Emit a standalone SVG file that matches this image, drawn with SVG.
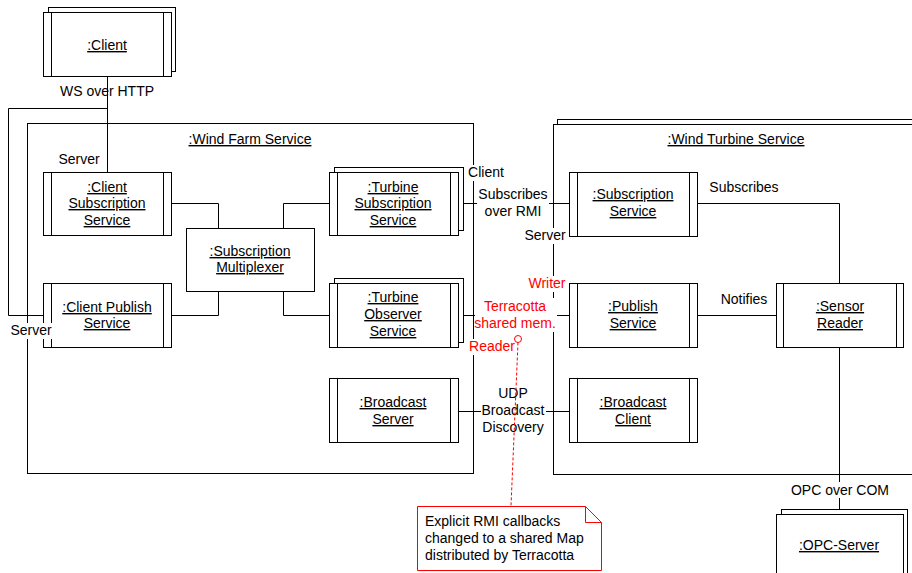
<svg xmlns="http://www.w3.org/2000/svg" width="912" height="573" viewBox="0 0 912 573">
<style>
.b{fill:#fff;stroke:#000;stroke-width:1}
.l{fill:none;stroke:#000;stroke-width:1}
.t{font-family:"Liberation Sans",Arial,sans-serif;font-size:14px;fill:#000;text-anchor:middle}
.u{text-decoration:underline}
.r{fill:#f00}
.bg{fill:#fff;stroke:none}
.rd{fill:none;stroke:#f00;stroke-width:1}
</style>
<rect width="912" height="573" fill="#fff"/>
<g id="wind-farm-service">
<rect class="b" x="27.5" y="123.5" width="446" height="350"/>
<text class="t u" x="250" y="144">:Wind Farm Service</text>
</g>
<g id="wind-turbine-service">
<rect class="b" x="557.5" y="119.5" width="400" height="350"/>
<rect class="b" x="553.5" y="124.5" width="400" height="350"/>
<text class="t u" x="736" y="144">:Wind Turbine Service</text>
</g>
<g id="connectors" class="l">
<path d="M107.5 76.5V172.5"/>
<path d="M107.5 108.5H8.5V315.5H43.5"/>
<path d="M171.5 203.5H218.5V228.5"/>
<path d="M171.5 315.5H218.5V291.5"/>
<path d="M283.5 228.5V203.5H329.5"/>
<path d="M283.5 291.5V315.5H329.5"/>
<path d="M458.5 203.5H569.5"/>
<path d="M458.5 315.5H569.5"/>
<path d="M458.5 411.5H569.5"/>
<path d="M697.5 203.5H839.5V283.5"/>
<path d="M697.5 315.5H776.5"/>
<path d="M839.5 347.5V509.5"/>
</g>
<g id="client">
<rect class="b" x="48.5" y="7.5" width="127" height="64"/>
<rect class="b" x="43.5" y="12.5" width="128" height="64"/>
<path class="l" d="M51.5 12.5V76.5M163.5 12.5V76.5"/>
<text class="t u" x="107" y="50">:Client</text>
</g>
<g id="client-subscription-service">
<rect class="b" x="43.5" y="172.5" width="128" height="63"/>
<path class="l" d="M51.5 172.5V235.5M163.5 172.5V235.5"/>
<text class="t u" x="107" y="192">:Client</text>
<text class="t u" x="107" y="208">Subscription</text>
<text class="t u" x="107" y="225">Service</text>
</g>
<g id="client-publish-service">
<rect class="b" x="43.5" y="283.5" width="128" height="64"/>
<path class="l" d="M51.5 283.5V347.5M163.5 283.5V347.5"/>
<text class="t u" x="107" y="312">:Client Publish</text>
<text class="t u" x="107" y="328">Service</text>
</g>
<g id="subscription-multiplexer">
<rect class="b" x="186.5" y="228.5" width="128" height="63"/>
<text class="t u" x="250" y="256">:Subscription</text>
<text class="t u" x="250" y="272">Multiplexer</text>
</g>
<g id="turbine-subscription-service">
<rect class="b" x="334.5" y="167.5" width="129" height="63"/>
<rect class="b" x="329.5" y="172.5" width="129" height="63"/>
<path class="l" d="M337.5 172.5V235.5M450.5 172.5V235.5"/>
<text class="t u" x="393" y="192">:Turbine</text>
<text class="t u" x="393" y="208">Subscription</text>
<text class="t u" x="393" y="225">Service</text>
</g>
<g id="turbine-observer-service">
<rect class="b" x="334.5" y="278.5" width="129" height="64"/>
<rect class="b" x="329.5" y="283.5" width="129" height="64"/>
<path class="l" d="M337.5 283.5V347.5M450.5 283.5V347.5"/>
<text class="t u" x="393" y="302">:Turbine</text>
<text class="t u" x="393" y="319">Observer</text>
<text class="t u" x="393" y="336">Service</text>
</g>
<g id="broadcast-server">
<rect class="b" x="329.5" y="378.5" width="129" height="64"/>
<path class="l" d="M337.5 378.5V442.5M450.5 378.5V442.5"/>
<text class="t u" x="393" y="407">:Broadcast</text>
<text class="t u" x="393" y="424">Server</text>
</g>
<g id="subscription-service">
<rect class="b" x="569.5" y="172.5" width="128" height="64"/>
<path class="l" d="M577.5 172.5V236.5M689.5 172.5V236.5"/>
<text class="t u" x="633" y="199">:Subscription</text>
<text class="t u" x="633" y="216">Service</text>
</g>
<g id="publish-service">
<rect class="b" x="569.5" y="283.5" width="128" height="64"/>
<path class="l" d="M577.5 283.5V347.5M689.5 283.5V347.5"/>
<text class="t u" x="633" y="311">:Publish</text>
<text class="t u" x="633" y="328">Service</text>
</g>
<g id="broadcast-client">
<rect class="b" x="569.5" y="378.5" width="128" height="64"/>
<path class="l" d="M577.5 378.5V442.5M689.5 378.5V442.5"/>
<text class="t u" x="633" y="407">:Broadcast</text>
<text class="t u" x="633" y="424">Client</text>
</g>
<g id="sensor-reader">
<rect class="b" x="776.5" y="283.5" width="127" height="64"/>
<path class="l" d="M783.5 283.5V347.5M896.5 283.5V347.5"/>
<text class="t u" x="840" y="311">:Sensor</text>
<text class="t u" x="840" y="328">Reader</text>
</g>
<g id="opc-server">
<rect class="b" x="781.5" y="509.5" width="126" height="80"/>
<rect class="b" x="776.5" y="514.5" width="127" height="80"/>
<text class="t u" x="839" y="550">:OPC-Server</text>
</g>
<g id="labels">
<text class="t" x="107" y="96">WS over HTTP</text>
<text class="t" x="79" y="164">Server</text>
<rect class="bg" x="9" y="323" width="44" height="16"/>
<text class="t" x="31" y="335">Server</text>
<rect class="bg" x="467" y="165" width="38" height="16"/>
<text class="t" x="486" y="177">Client</text>
<rect class="bg" x="477" y="186" width="72" height="34"/>
<text class="t" x="513" y="199">Subscribes</text>
<text class="t" x="513" y="216">over RMI</text>
<rect class="bg" x="523" y="228" width="44" height="16"/>
<text class="t" x="545" y="240">Server</text>
<rect class="bg" x="527" y="276" width="40" height="16"/>
<text class="t r" x="547" y="288">Writer</text>
<rect class="bg" x="475" y="298" width="82" height="34"/>
<text class="t r" x="515" y="311">Terracotta</text>
<text class="t r" x="515" y="328">shared mem.</text>
<rect class="bg" x="468" y="339" width="48" height="16"/>
<text class="t r" x="492" y="351">Reader</text>
<rect class="bg" x="481" y="386" width="65" height="50"/>
<text class="t" x="513" y="398">UDP</text>
<text class="t" x="513" y="415">Broadcast</text>
<text class="t" x="513" y="432">Discovery</text>
<text class="t" x="744" y="192">Subscribes</text>
<text class="t" x="744" y="304">Notifies</text>
<rect class="bg" x="793" y="482" width="94" height="16"/>
<text class="t" x="840" y="495">OPC over COM</text>
</g>
<g id="note">
<path class="rd" d="M518 342.5L511 506" stroke-dasharray="3,2"/>
<circle cx="518" cy="339" r="3.5" fill="#fff" stroke="#f00"/>
<path d="M417.5 506.5H585.5L601.5 522.5V570.5H417.5Z" fill="#fff" stroke="#f00"/>
<path class="rd" d="M585.5 506.5V522.5H601.5"/>
<text class="t" style="text-anchor:start" x="425" y="526">Explicit RMI callbacks</text>
<text class="t" style="text-anchor:start" x="425" y="543">changed to a shared Map</text>
<text class="t" style="text-anchor:start" x="425" y="560">distributed by Terracotta</text>
</g>
</svg>
